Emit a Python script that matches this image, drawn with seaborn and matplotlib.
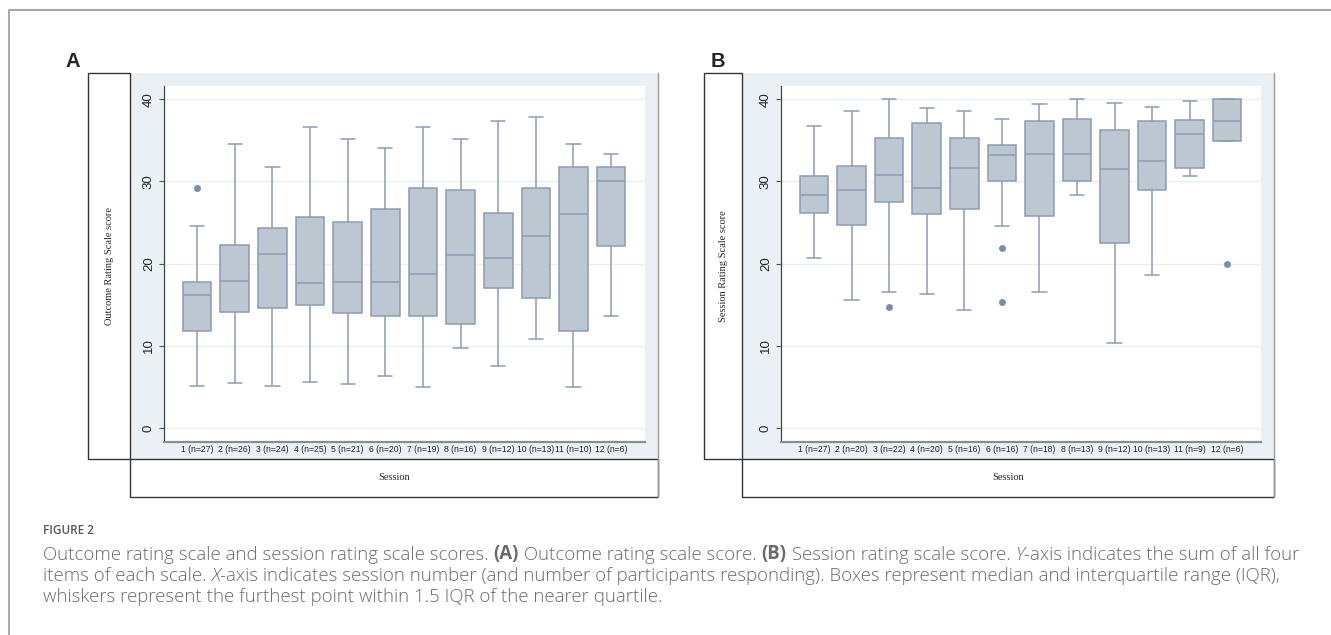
import matplotlib
matplotlib.use("Agg")
import matplotlib.pyplot as plt
import pandas as pd
import seaborn as sns
from matplotlib.patches import Rectangle

# five-number summaries, plus the outlying points
sessions_a = ["1 (n=27)", "2 (n=26)", "3 (n=24)", "4 (n=25)", "5 (n=21)", "6 (n=20)",
              "7 (n=19)", "8 (n=16)", "9 (n=12)", "10 (n=13)", "11 (n=10)", "12 (n=6)"]
lo_a = [5.1, 5.5, 5.1, 5.6, 5.4, 6.3, 5.0, 9.7, 7.5, 10.8, 5.0, 13.6]
q1_a = [11.8, 14.1, 14.6, 15.0, 14.0, 13.6, 13.6, 12.6, 17.0, 15.8, 11.8, 22.2]
med_a = [16.2, 17.9, 21.2, 17.6, 17.7, 17.8, 18.7, 21.0, 20.7, 23.4, 26.0, 30.0]
q3_a = [17.7, 22.3, 24.3, 25.7, 25.0, 26.6, 29.2, 28.9, 26.2, 29.2, 31.8, 31.8]
hi_a = [24.6, 34.6, 31.8, 36.6, 35.2, 34.0, 36.6, 35.2, 37.4, 37.8, 34.5, 33.3]
out_sess_a = ["1 (n=27)"]
out_val_a = [29.2]

sessions_b = ["1 (n=27)", "2 (n=20)", "3 (n=22)", "4 (n=20)", "5 (n=16)", "6 (n=16)",
              "7 (n=18)", "8 (n=13)", "9 (n=12)", "10 (n=13)", "11 (n=9)", "12 (n=6)"]
lo_b = [20.7, 15.6, 16.5, 16.3, 14.3, 24.6, 16.5, 28.4, 10.3, 18.6, 30.6, 34.9]
q1_b = [26.1, 24.7, 27.5, 26.0, 26.6, 30.0, 25.8, 30.0, 22.5, 28.9, 31.6, 34.9]
med_b = [28.3, 28.9, 30.8, 29.2, 31.6, 33.2, 33.3, 33.3, 31.5, 32.5, 35.8, 37.4]
q3_b = [30.7, 31.9, 35.3, 37.1, 35.3, 34.4, 37.4, 37.6, 36.3, 37.4, 37.5, 40.0]
hi_b = [36.7, 38.6, 40.0, 38.9, 38.6, 37.6, 39.4, 40.0, 39.5, 39.1, 39.8, 40.0]
out_sess_b = ["3 (n=22)", "6 (n=16)", "6 (n=16)", "12 (n=6)"]
out_val_b = [14.7, 21.9, 15.3, 20.0]

W, H = 1331, 635
FILL = "#bdc7d2"
EDGE = "#8a9db4"
DOT = "#7a8ea7"
REGION = "#eaf0f4"

sns.set_style("white")
plt.rcParams["font.family"] = ["Liberation Sans", "DejaVu Sans"]

fig = plt.figure(figsize=(W / 100, H / 100), dpi=100)

# full-figure axes in pixel coordinates for the frames and captions
bg = fig.add_axes([0, 0, 1, 1])
bg.set_xlim(0, W)
bg.set_ylim(H, 0)
bg.axis("off")
bg.set_zorder(-1)


def box(x0, y0, x1, y1, **kw):
    bg.add_patch(Rectangle((x0, y0), x1 - x0, y1 - y0, **kw))


def to_long(sessions, lo, q1, med, q3, hi):
    rows = []
    for s, *vals in zip(sessions, lo, q1, med, q3, hi):
        for v in vals:
            rows.append((s, v))
    return pd.DataFrame(rows, columns=["session", "score"])


def panel(letter, letter_x, ylab, sessions, lo, q1, med, q3, hi, out_s, out_v,
          ybox, region, plot):
    yx0, yx1 = ybox
    rx0, rx1 = region
    px0, py0, px1, py1 = plot
    box(rx0, 73, rx1, 459, facecolor=REGION, edgecolor="none")
    bg.plot([rx1, rx1], [73, 497], color="#9a9a9a", lw=1)
    box(yx0, 73, yx1, 459, facecolor="white", edgecolor="#333333", lw=1)
    box(rx0, 459, rx1, 497, facecolor="white", edgecolor="#333333", lw=1)
    bg.text(letter_x, 67, letter, fontsize=14.5, fontweight="bold", ha="left", va="baseline")
    bg.text((yx0 + yx1) / 2, 266, ylab, rotation=90, ha="center", va="center",
            fontsize=7.5, family="Liberation Serif")
    bg.text((rx0 + rx1) / 2, 478, "Session", ha="center", va="center",
            fontsize=7.5, family="Liberation Serif")

    ax = fig.add_axes([px0 / W, 1 - py1 / H, (px1 - px0) / W, (py1 - py0) / H])
    df = to_long(sessions, lo, q1, med, q3, hi)
    sns.boxplot(data=df, x="session", y="score", order=sessions, whis=(0, 100),
                color=FILL, linecolor=EDGE, linewidth=1.1, width=0.76,
                saturation=1, ax=ax)
    sns.stripplot(x=out_s, y=out_v, order=sessions, jitter=False, color=DOT,
                  size=5, linewidth=0, ax=ax)
    ax.set_xlim(-0.88, 11.9)
    ax.set_ylim(-1.7, 41.6)
    ax.set_yticks([0, 10, 20, 30, 40])
    ax.set_xlabel("")
    ax.set_ylabel("")
    ax.yaxis.grid(True, color="#e8eef2", lw=1)
    ax.set_axisbelow(True)
    for s in ("top", "right"):
        ax.spines[s].set_visible(False)
    ax.spines["left"].set_color("#444444")
    ax.spines["left"].set_linewidth(0.9)
    ax.spines["bottom"].set_color("#8c8c8c")
    ax.spines["bottom"].set_linewidth(1.6)
    ax.tick_params(axis="y", left=True, length=3.6, width=0.8, color="#555555",
                   labelrotation=90, labelsize=9.5, pad=3)
    ax.tick_params(axis="x", length=0, labelsize=6.2, pad=2.5)
    for t in ax.get_yticklabels() + ax.get_xticklabels():
        t.set_family("Liberation Sans")
    for t in ax.get_yticklabels():
        t.set_va("center")
    return ax


panel("A", 66, "Outcome Rating Scale score", sessions_a, lo_a, q1_a, med_a, q3_a, hi_a,
      out_sess_a, out_val_a, (88, 130), (130, 658), (164, 86, 645, 442))
panel("B", 711, "Session Rating Scale score", sessions_b, lo_b, q1_b, med_b, q3_b, hi_b,
      out_sess_b, out_val_b, (704, 742), (742, 1274), (781, 86, 1261, 442))

# page frame
bg.plot([9, 9, W + 5], [H + 5, 10, 10], color="#a8a8a8", lw=1.5, clip_on=False)

# caption
cap = dict(fontsize=13.45, color="#6a6a6a", family="Open Sans", fontweight="light",
           va="bottom")
bg.text(43, 537, "FIGURE 2", fontsize=8.5, color="#555555", family="Open Sans",
        fontweight="semibold", va="bottom")


def caption_line(y, parts):
    prev = None
    for txt, style in parts:
        kw = dict(cap)
        if style == "b":
            kw["fontweight"] = "bold"
        elif style == "i":
            kw["fontstyle"] = "italic"
        if prev is None:
            prev = bg.annotate(txt, xy=(43, y), xycoords="data", **kw)
        else:
            prev = bg.annotate(txt, xy=(1, 0), xycoords=prev, **kw)


caption_line(564, [("Outcome rating scale and session rating scale scores. ", ""),
                   ("(A)", "b"), (" Outcome rating scale score. ", ""), ("(B)", "b"),
                   (" Session rating scale score. ", ""), ("Y", "i"),
                   ("-axis indicates the sum of all four", "")])
caption_line(585, [("items of each scale. ", ""), ("X", "i"),
                   ("-axis indicates session number (and number of participants responding). "
                    "Boxes represent median and interquartile range (IQR),", "")])
caption_line(606, [("whiskers represent the furthest point within 1.5 IQR of the nearer quartile.", "")])

fig.savefig("out.png", dpi=100)
